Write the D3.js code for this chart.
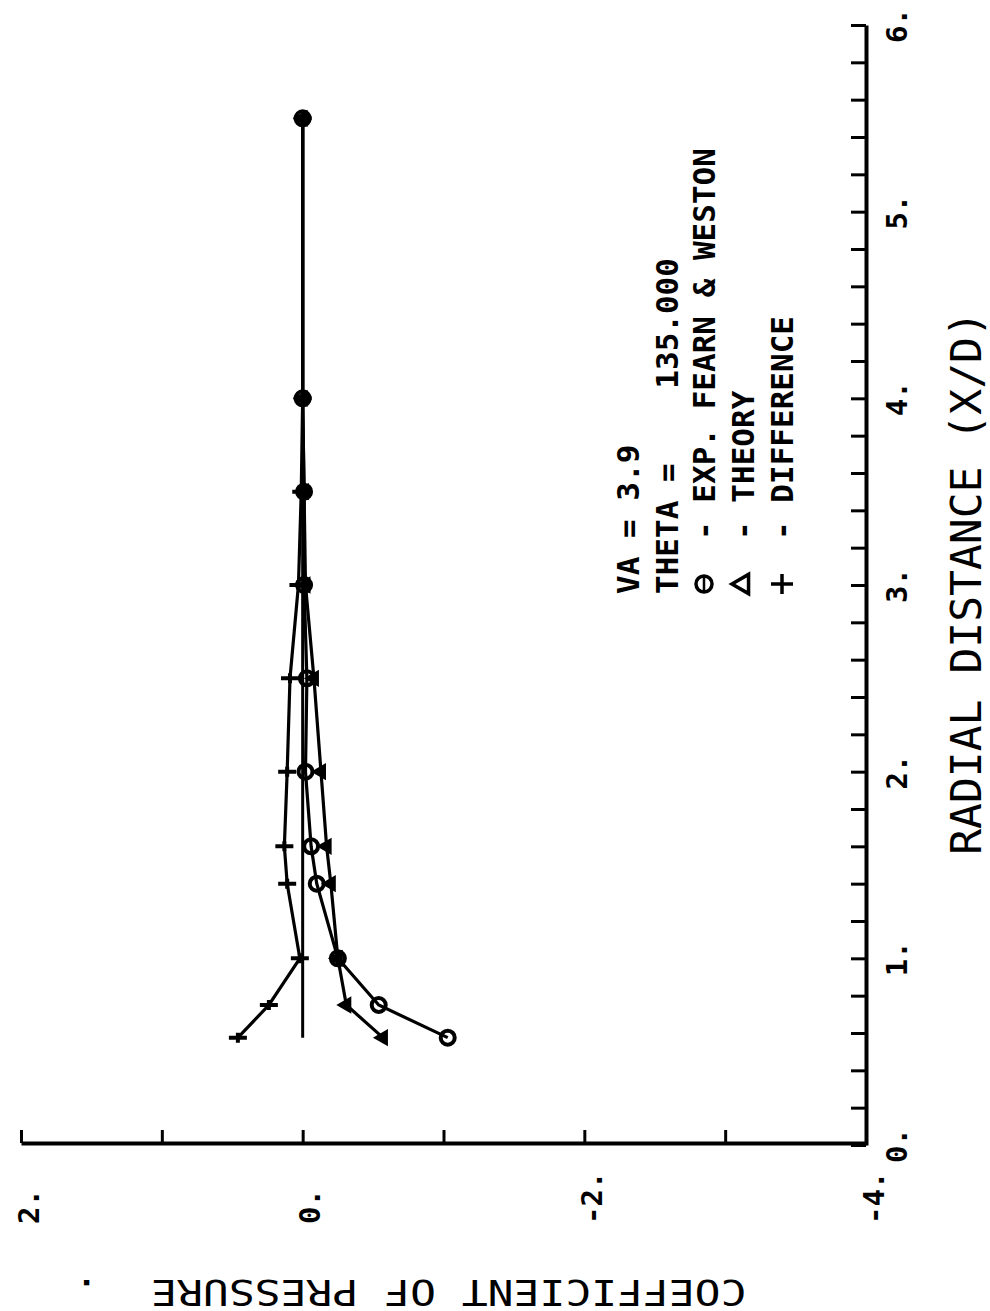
<!DOCTYPE html>
<html>
<head>
<meta charset="utf-8">
<script src="https://cdn.jsdelivr.net/npm/d3@7"></script>
<style>
  body { margin: 0; background: #fff; }
  text { font-family: "DejaVu Sans Mono", monospace; fill: #000; white-space: pre; }
</style>
</head>
<body>
<div id="chart"></div>
<script>
// radial distance X/D of each station
const radialDist = [0.575, 0.75, 1.0, 1.4, 1.6, 2.0, 2.5, 3.0, 3.5, 4.0, 5.5];
// pressure coefficients
const cpExp    = [-1.03, -0.54, -0.25, -0.10, -0.06, -0.02, -0.03, -0.01, -0.01, 0.0, 0.0];
const cpTheory = [-0.57, -0.31, -0.25, -0.20, -0.17, -0.13, -0.08, -0.02, -0.01, 0.0, 0.0];
const cpDiff   = [ 0.46,  0.24,  0.02,  0.11,  0.13,  0.11,  0.09,  0.03,  0.01, 0.0, 0.0];

const cpTicks = [2, 1, 0, -1, -2, -3, -4];
const cpLabels = [2, 0, -2, -4];
const radialLabels = [0, 1, 2, 3, 4, 5, 6];

const legendLines = ["VA = 3.9", "THETA =    135.000"];
const legendSeries = ["- EXP. FEARN & WESTON", "- THEORY", "- DIFFERENCE"];

const svgWidth = 990;
const svgHeight = 1311;

const svg = d3.select("#chart")
    .append("svg")
    .attr("width", svgWidth)
    .attr("height", svgHeight)
    .style("background", "#fff");

// the page is turned a quarter: Cp runs along the bottom (reversed), X/D up the right side
const x = d3.scaleLinear().domain([2, -4]).range([21, 866]);
const y = d3.scaleLinear().domain([0, 6]).range([1145, 25]);

// Cp axis
const cpAxis = svg.append("g")
    .attr("transform", "translate(0,1143)")
    .call(d3.axisBottom(x)
        .tickValues(cpTicks)
        .tickSize(-13)
        .tickSizeOuter(0)
        .tickFormat(d => cpLabels.includes(d) ? d + "." : ""));
cpAxis.select(".domain").attr("stroke-width", 4);
cpAxis.selectAll(".tick line").attr("stroke-width", 3);
cpAxis.selectAll(".tick text")
    .attr("x", 0).attr("y", 0).attr("dy", "0.35em")
    .attr("transform", "translate(7,81) rotate(-90)")
    .attr("text-anchor", "start")
    .style("font-size", "29px")
    .style("font-weight", "bold");

// radial distance axis
const rAxis = svg.append("g")
    .attr("transform", "translate(866,0)")
    .call(d3.axisRight(y)
        .ticks(30)
        .tickSize(-15)
        .tickSizeOuter(0)
        .tickFormat(d => radialLabels.includes(d) ? d + "." : ""));
rAxis.select(".domain").attr("stroke-width", 4);
rAxis.selectAll(".tick line").attr("stroke-width", 3);
rAxis.selectAll(".tick text")
    .attr("x", 0).attr("y", 0).attr("dy", "0.35em")
    .attr("transform", "translate(31,0) rotate(-90)")
    .attr("text-anchor", "middle")
    .style("font-size", "29px")
    .style("font-weight", "bold");

svg.selectAll(".domain, .tick line").attr("stroke", "#000");

// axis titles
svg.append("text")
    .attr("transform", "translate(966,583) rotate(-90)")
    .attr("text-anchor", "middle")
    .attr("dy", "0.35em")
    .style("font-size", "43px")
    .text("RADIAL DISTANCE (X/D)");

svg.append("text")
    .attr("transform", "translate(410,1292) rotate(180) scale(1,0.82)")
    .attr("text-anchor", "middle")
    .attr("dy", "0.35em")
    .style("font-size", "43px")
    .text("COEFFICIENT OF PRESSURE  .");

// data
const rows = radialDist.map((r, i) => ({r: r, exp: cpExp[i], theory: cpTheory[i], diff: cpDiff[i]}));

const line = key => d3.line().x(d => x(d[key])).y(d => y(d.r));

const plot = svg.append("g");

// zero reference
plot.append("path")
    .datum(d3.extent(radialDist))
    .attr("d", d3.line().x(() => x(0)).y(d => y(d)))
    .attr("fill", "none").attr("stroke", "#000").attr("stroke-width", 3);

["exp", "theory", "diff"].forEach(key => {
    plot.append("path")
        .datum(rows)
        .attr("d", line(key))
        .attr("fill", "none")
        .attr("stroke", "#000")
        .attr("stroke-width", 3.2);
});

const triangle = d3.symbol().type(d3.symbolTriangle).size(130);

plot.selectAll(".tri")
    .data(rows).enter().append("path")
    .attr("class", "tri")
    .attr("d", triangle)
    .attr("transform", d => "translate(" + x(d.theory) + "," + y(d.r) + ") rotate(-90)")
    .attr("fill", "#000");

plot.selectAll(".circ")
    .data(rows).enter().append("circle")
    .attr("class", "circ")
    .attr("cx", d => x(d.exp))
    .attr("cy", d => y(d.r))
    .attr("r", 7)
    .attr("fill", "none")
    .attr("stroke", "#000")
    .attr("stroke-width", 4);

plot.selectAll(".plus")
    .data(rows).enter().append("path")
    .attr("class", "plus")
    .attr("d", "M-9,0H9M0,-5V5")
    .attr("transform", d => "translate(" + x(d.diff) + "," + y(d.r) + ")")
    .attr("stroke", "#000")
    .attr("stroke-width", 4);

// legend block, also written sideways
const legend = svg.append("g");
const colX = [628, 667, 704, 743, 782];

legendLines.forEach((t, i) => {
    legend.append("text")
        .attr("transform", "translate(" + colX[i] + ",594) rotate(-90)")
        .attr("dy", "0.35em")
        .style("font-size", "31px")
        .style("font-weight", "bold")
        .text(t);
});

legendSeries.forEach((t, i) => {
    legend.append("text")
        .attr("transform", "translate(" + colX[i + 2] + ",540) rotate(-90)")
        .attr("dy", "0.35em")
        .style("font-size", "31px")
        .style("font-weight", "bold")
        .text(t);
});

legend.append("circle")
    .attr("cx", colX[2]).attr("cy", 584).attr("r", 8)
    .attr("fill", "none").attr("stroke", "#000").attr("stroke-width", 3.5);
legend.append("path")
    .attr("d", "M0,-8V8")
    .attr("transform", "translate(" + colX[2] + ",584)")
    .attr("stroke", "#000").attr("stroke-width", 2.5);
legend.append("path")
    .attr("d", d3.symbol().type(d3.symbolTriangle).size(160))
    .attr("transform", "translate(" + colX[3] + ",584) rotate(-90)")
    .attr("fill", "none").attr("stroke", "#000").attr("stroke-width", 3.5);
legend.append("path")
    .attr("d", "M-11,0H11M0,-10V10")
    .attr("transform", "translate(" + colX[4] + ",584)")
    .attr("stroke", "#000").attr("stroke-width", 3.5);
</script>
</body>
</html>
